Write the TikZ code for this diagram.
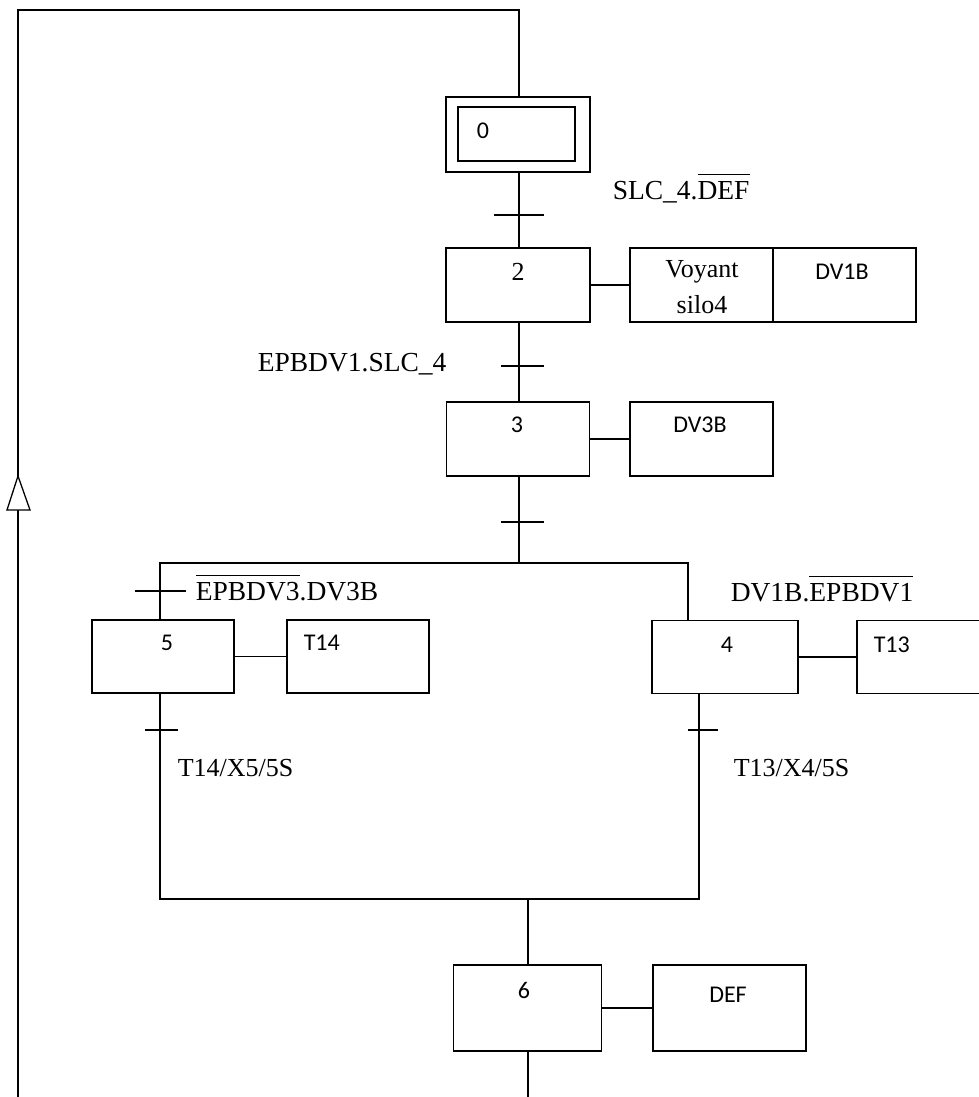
\documentclass[tikz,border=0pt]{standalone}
\usepackage{fontspec}
\setmainfont{Liberation Serif}
\newfontfamily\calib{Carlito}
\newcommand\ovl[1]{$\overline{\rule{0pt}{0.86em}\hbox{#1}}$}
\begin{document}
\begin{tikzpicture}[x=1pt,y=-1pt,line width=1.5pt,
  box/.style={draw,rectangle,inner sep=0pt},
  serlab/.style={font=\fontsize{27.5}{31}\selectfont,inner sep=0pt},
  tlab/.style={font=\fontsize{26}{30}\selectfont,inner sep=0pt},
  boxlab/.style={font=\fontsize{26}{30}\selectfont,inner sep=0pt},
  sanlab/.style={font=\calib\fontsize{24}{28}\selectfont,inner sep=0pt},
  tick/.style={line width=1.5pt}]
\useasboundingbox (0,0) rectangle (979,1097);
% steps
\node[box,minimum width=144,minimum height=75] (s0) at (518,134.5) {};
\node[box,minimum width=117,minimum height=54] (s0i) at (516.5,134) {};
\node[box,minimum width=144,minimum height=74] (s2) at (518,285) {};
\node[box,minimum width=143,minimum height=74] (a2a) at (701.5,285) {};
\node[box,minimum width=143,minimum height=74] (a2b) at (844.5,285) {};
\node[box,minimum width=143,minimum height=74] (s3) at (518,439) {};
\node[box,minimum width=143,minimum height=74] (a3) at (701.5,439) {};
\node[box,minimum width=142,minimum height=73] (s5) at (163,656.5) {};
\node[box,minimum width=142,minimum height=73] (a5) at (358,656.5) {};
\node[box,minimum width=146,minimum height=73] (s4) at (725,657) {};
\node[box,minimum width=143,minimum height=73] (a4) at (928.5,657) {};
\node[box,minimum width=148,minimum height=86] (s6) at (527.5,1008) {};
\node[box,minimum width=153,minimum height=86] (a6) at (729.5,1008) {};
% texts
\node[sanlab] (t0) at (483,131) {0};
\node[boxlab] (t2) at (518,272) {2};
\node[boxlab] (tv) at (702,272) {Voyant};
\node[boxlab] (ts) at (702,305) {silo4};
\node[sanlab] (tdv1b) at (842,272) {DV1B};
\node[sanlab] (t3) at (517,425) {3};
\node[sanlab] (tdv3b) at (700,425) {DV3B};
\node[sanlab] (t5) at (167,643) {5};
\node[sanlab,anchor=west] (tt14) at (303,643) {T14};
\node[sanlab] (t4) at (727,645) {4};
\node[sanlab,anchor=west] (tt13) at (873,645) {T13};
\node[sanlab] (t6) at (524,990) {6};
\node[sanlab] (tdef) at (728,995) {DEF};
% transition labels
\node[serlab,anchor=base west] (c1) at (612,199) {SLC\_4.\ovl{DEF}};
\node[serlab,anchor=base west] (c2) at (257,371) {EPBDV1.SLC\_4};
\node[serlab,anchor=base west] (c5) at (195,600) {\ovl{EPBDV3}.DV3B};
\node[serlab,anchor=base west] (c4) at (730,601) {DV1B.\ovl{EPBDV1}};
\node[tlab,anchor=west] (c6) at (177,768) {T14/X5/5S};
\node[tlab,anchor=west] (c7) at (733,768) {T13/X4/5S};
% links
\draw (s0.south -| 519,0) -- (s2.north -| 519,0);
\draw (s2.south -| 519,0) -- (s3.north -| 519,0);
\coordinate (d3) at (519,563);
\draw (s3.south -| d3) -- (d3);
\coordinate (dl) at (160,563);
\coordinate (dr) at (688,563);
\draw (dl |- s5.north) -- (dl) -- (dr) -- (dr |- s4.north);
\coordinate (cl) at (160,899);
\coordinate (cr) at (699,899);
\coordinate (cm) at (528,899);
\draw (cl |- s5.south) -- (cl) -- (cr) -- (cr |- s4.south);
\draw (cm) -- (cm |- s6.north);
\coordinate (bot) at (528,1097);
\draw (bot |- s6.south) -- (bot);
% actions links
\draw (s2.east) -- (a2a.west);
\draw (s3.east) -- (a3.west);
\draw (s5.east) -- (a5.west);
\draw (s4.east) -- (a4.west);
\draw (s6.east) -- (a6.west);
% loop
\coordinate (l1) at (519,10);
\coordinate (l2) at (18,10);
\coordinate (l3) at (18,1097);
\draw (s0.north -| l1) -- (l1) -- (l2) -- (l3);
\draw[fill=white,line width=1.3pt] (18,476) -- (7,510) -- (30,510) -- cycle;
% ticks
\draw[tick] (494,215) -- (544,215);
\draw[tick] (501,366) -- (544,366);
\draw[tick] (501,522) -- (544,522);
\draw[tick] (135,591) -- (186,591);
\draw[tick] (145,730) -- (178,730);
\draw[tick] (688,730) -- (718,730);
\end{tikzpicture}
\end{document}
